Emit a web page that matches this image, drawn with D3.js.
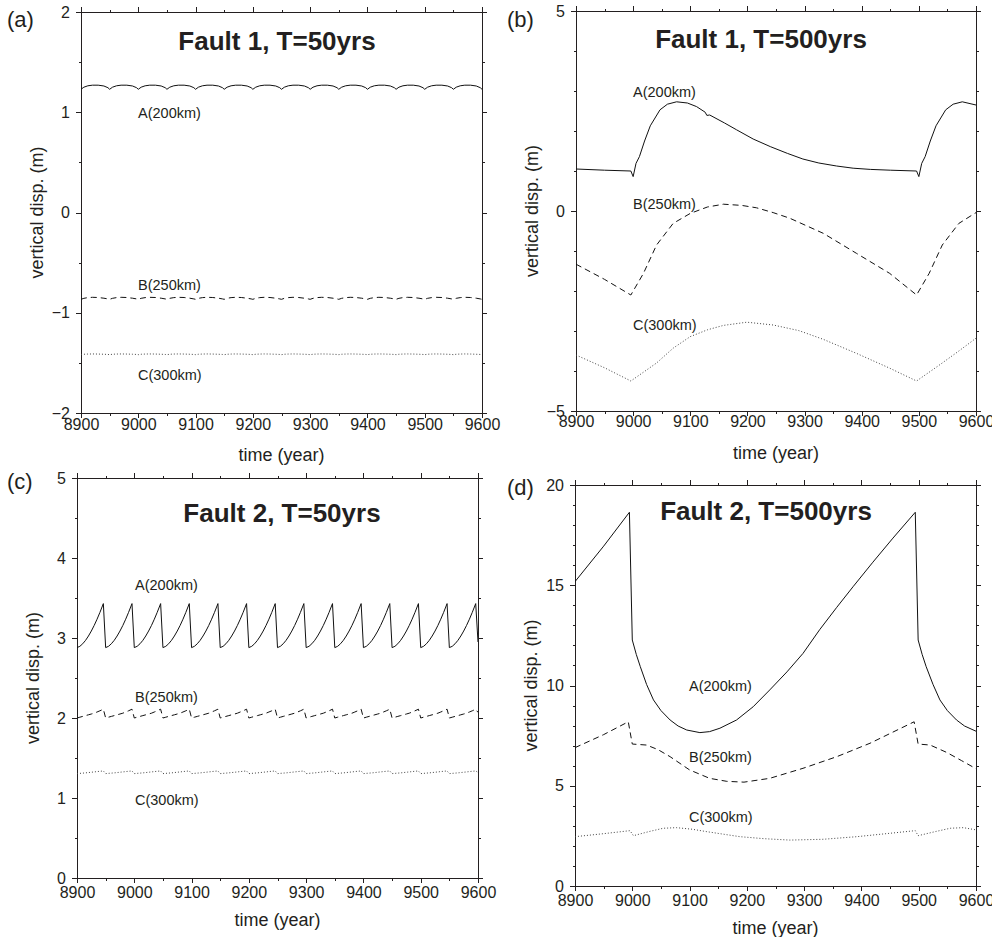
<!DOCTYPE html>
<html>
<head>
<meta charset="utf-8">
<script src="https://cdn.jsdelivr.net/npm/d3@7"></script>
<style>
  body { margin: 0; background: #fff; }
  text { font-family: "Liberation Sans", Arial, Helvetica, sans-serif; fill: #231f20; }
</style>
</head>
<body>
<svg id="chart" width="992" height="937"></svg>
<script>
// ---- tick values ----
const xTicks = [8900, 9000, 9100, 9200, 9300, 9400, 9500, 9600];
const xMinor = [8950, 9050, 9150, 9250, 9350, 9450, 9550];
const yTicksA = [-2, -1, 0, 1, 2];
const yMinorA = [-1.5, -0.5, 0.5, 1.5];
const yTicksB = [-5, 0, 5];
const yMinorB = [-4, -3, -2, -1, 1, 2, 3, 4];
const yTicksC = [0, 1, 2, 3, 4, 5];
const yMinorC = [0.5, 1.5, 2.5, 3.5, 4.5];
const yTicksD = [0, 5, 10, 15, 20];
const yMinorD = [1, 2, 3, 4, 6, 7, 8, 9, 11, 12, 13, 14, 16, 17, 18, 19];

const seriesNames = ["A(200km)", "B(250km)", "C(300km)"];

// ---- T=50yrs : one earthquake cycle, restarted at every quake ----
const quakes50 = [8900, 8950, 9000, 9050, 9100, 9150, 9200, 9250, 9300, 9350, 9400, 9450, 9500, 9550];

const f1Offsets = [0, 5, 12, 20, 30, 40, 47, 50];
const f1A50 = [1.229, 1.250, 1.264, 1.270, 1.270, 1.262, 1.245, 1.229];
const f1B50 = [-0.866, -0.856, -0.849, -0.846, -0.848, -0.855, -0.862, -0.866];
const f1C50 = [-1.418, -1.414, -1.412, -1.411, -1.412, -1.414, -1.416, -1.418];

const f2Offsets = [0, 5, 10, 15, 20, 25, 30, 35, 40, 46];
const f2A50 = [2.88, 2.896, 2.928, 2.971, 3.025, 3.087, 3.157, 3.235, 3.32, 3.43];
const f2B50 = [2.00, 2.01, 2.02, 2.03, 2.04, 2.05, 2.06, 2.075, 2.09, 2.11];
const f2C50 = [1.305, 1.308, 1.311, 1.314, 1.318, 1.322, 1.326, 1.33, 1.334, 1.338];
const f2End50 = [2.95, 2.07, 1.32]; // values at 9600 (A, B, C)

// ---- Fault 1, T=500yrs ----
const f1AYears = [8900, 8950, 8996, 9000, 9005, 9011, 9020, 9030, 9047, 9060, 9076, 9095, 9111, 9126, 9129, 9134, 9160, 9181, 9210, 9240, 9270, 9297, 9325, 9356, 9385, 9415, 9450, 9496, 9500, 9505, 9511, 9520, 9530, 9547, 9560, 9576, 9600];
const f1A500 = [1.05, 1.02, 1.00, 0.86, 1.19, 1.36, 1.75, 2.13, 2.53, 2.67, 2.73, 2.70, 2.61, 2.47, 2.39, 2.40, 2.20, 2.03, 1.80, 1.61, 1.44, 1.30, 1.20, 1.125, 1.07, 1.04, 1.02, 1.00, 0.86, 1.19, 1.36, 1.75, 2.13, 2.53, 2.67, 2.73, 2.65];
const f1BYears = [8900, 8950, 8996, 9018, 9041, 9070, 9100, 9130, 9158, 9190, 9216, 9245, 9274, 9333, 9391, 9449, 9496, 9518, 9541, 9570, 9600];
const f1B500 = [-1.33, -1.71, -2.10, -1.56, -0.85, -0.31, -0.06, 0.10, 0.17, 0.14, 0.08, -0.04, -0.18, -0.56, -1.06, -1.56, -2.10, -1.56, -0.85, -0.31, -0.04];
const f1CYears = [8900, 8950, 8996, 9041, 9070, 9100, 9130, 9158, 9199, 9245, 9290, 9333, 9391, 9449, 9496, 9537, 9570, 9600];
const f1C500 = [-3.60, -3.92, -4.25, -3.80, -3.43, -3.14, -2.97, -2.86, -2.78, -2.85, -2.99, -3.21, -3.56, -3.93, -4.25, -3.84, -3.50, -3.18];

// ---- Fault 2, T=500yrs ----
const f2AYears = [8900, 8950, 8995, 9000, 9007, 9014, 9025, 9037, 9050, 9066, 9080, 9095, 9118, 9135, 9153, 9182, 9211, 9240, 9270, 9298, 9327, 9357, 9386, 9420, 9455, 9494, 9499, 9506, 9513, 9525, 9537, 9550, 9566, 9580, 9600];
const f2A500 = [15.18, 16.95, 18.64, 12.27, 11.55, 10.94, 10.05, 9.28, 8.75, 8.28, 7.98, 7.78, 7.65, 7.70, 7.87, 8.28, 8.94, 9.78, 10.68, 11.6, 12.78, 13.9, 14.95, 16.15, 17.35, 18.64, 12.27, 11.55, 10.94, 10.05, 9.28, 8.75, 8.28, 7.98, 7.72];
const f2BYears = [8900, 8950, 8993, 9000, 9025, 9045, 9066, 9100, 9135, 9165, 9195, 9240, 9298, 9357, 9415, 9492, 9499, 9520, 9549, 9575, 9600];
const f2B500 = [6.90, 7.55, 8.19, 7.08, 7.03, 6.80, 6.45, 5.79, 5.37, 5.22, 5.18, 5.37, 5.87, 6.45, 7.12, 8.19, 7.08, 7.03, 6.66, 6.25, 5.85];
const f2CYears = [8900, 8950, 8996, 9002, 9030, 9054, 9077, 9105, 9130, 9160, 9188, 9230, 9275, 9333, 9392, 9450, 9494, 9499, 9530, 9555, 9578, 9600];
const f2C500 = [2.46, 2.61, 2.76, 2.51, 2.72, 2.88, 2.91, 2.83, 2.71, 2.58, 2.46, 2.36, 2.29, 2.33, 2.46, 2.63, 2.76, 2.51, 2.72, 2.88, 2.91, 2.80];

// build a series from one cycle repeated at each quake year
function cycleSeries(starts, offsets, values, endYear, endValue) {
  const pts = [];
  starts.forEach(function(s) {
    offsets.forEach(function(o, i) {
      if (s + o <= endYear) pts.push({ x: s + o, y: values[i] });
    });
  });
  if (endValue !== undefined) pts.push({ x: endYear, y: endValue });
  return pts;
}

function pairSeries(years, values) {
  return years.map((yr, i) => ({ x: yr, y: values[i] }));
}

const styles = [
  { dash: null, color: "#111" },
  { dash: "6,4", color: "#111" },
  { dash: "1,2", color: "#444" }
];

const panels = [
  {
    letter: "(a)", letterPos: [7, 27],
    title: "Fault 1, T=50yrs", titlePos: [277, 50],
    box: { l: 81, r: 482, t: 12, b: 413 }, xPad: 1,
    yDomain: [-2, 2], yTicks: yTicksA, yMinor: yMinorA,
    series: [
      cycleSeries(quakes50, f1Offsets, f1A50, 9600),
      cycleSeries(quakes50, f1Offsets, f1B50, 9600),
      cycleSeries(quakes50, f1Offsets, f1C50, 9600)
    ],
    labels: [[138, 118], [138, 290], [138, 380]]
  },
  {
    letter: "(b)", letterPos: [507, 27],
    title: "Fault 1, T=500yrs", titlePos: [761, 48],
    box: { l: 576, r: 976, t: 11, b: 411 }, xPad: 0,
    yDomain: [-5, 5], yTicks: yTicksB, yMinor: yMinorB,
    series: [
      pairSeries(f1AYears, f1A500),
      pairSeries(f1BYears, f1B500),
      pairSeries(f1CYears, f1C500)
    ],
    labels: [[633, 97], [633, 209], [633, 330]]
  },
  {
    letter: "(c)", letterPos: [7, 489],
    title: "Fault 2, T=50yrs", titlePos: [282, 522],
    box: { l: 77, r: 478, t: 478, b: 878 }, xPad: 4,
    yDomain: [0, 5], yTicks: yTicksC, yMinor: yMinorC,
    series: [
      cycleSeries(quakes50, f2Offsets, f2A50, 9600, f2End50[0]),
      cycleSeries(quakes50, f2Offsets, f2B50, 9600, f2End50[1]),
      cycleSeries(quakes50, f2Offsets, f2C50, 9600, f2End50[2])
    ],
    labels: [[135, 590], [135, 702], [135, 805]]
  },
  {
    letter: "(d)", letterPos: [507, 495],
    title: "Fault 2, T=500yrs", titlePos: [766, 520],
    box: { l: 575, r: 976, t: 485, b: 886 }, xPad: 4,
    yDomain: [0, 20], yTicks: yTicksD, yMinor: yMinorD,
    series: [
      pairSeries(f2AYears, f2A500),
      pairSeries(f2BYears, f2B500),
      pairSeries(f2CYears, f2C500)
    ],
    labels: [[689, 691], [689, 762], [689, 822]]
  }
];

const svg = d3.select("#chart");

function styleAxis(sel) {
  sel.select(".domain").remove();
  sel.selectAll("line").attr("stroke", "#231f20").attr("shape-rendering", "crispEdges");
  sel.selectAll("text")
    .attr("fill", "#231f20")
    .style("font-family", "'Liberation Sans', Arial, Helvetica, sans-serif")
    .style("font-size", "16px");
}

function drawPanel(p, idx) {
  const x = d3.scaleLinear().domain([8900, 9600]).range([p.box.l, p.box.r]);
  const y = d3.scaleLinear().domain(p.yDomain).range([p.box.b, p.box.t]);
  const g = svg.append("g");

  g.append("clipPath").attr("id", "clip" + idx)
    .append("rect")
    .attr("x", p.box.l).attr("y", p.box.t)
    .attr("width", p.box.r - p.box.l).attr("height", p.box.b - p.box.t);

  // bottom + top
  g.append("g").attr("transform", `translate(0,${p.box.b})`)
    .call(d3.axisBottom(x).tickValues(xTicks).tickSize(5).tickSizeOuter(0)
      .tickPadding(p.xPad).tickFormat(d3.format("d")))
    .call(styleAxis);
  g.append("g").attr("transform", `translate(0,${p.box.b})`)
    .call(d3.axisBottom(x).tickValues(xMinor).tickSize(2.5).tickSizeOuter(0).tickFormat(""))
    .call(styleAxis);
  g.append("g").attr("transform", `translate(0,${p.box.t})`)
    .call(d3.axisTop(x).tickValues(xTicks).tickSize(5).tickSizeOuter(0).tickFormat(""))
    .call(styleAxis);
  g.append("g").attr("transform", `translate(0,${p.box.t})`)
    .call(d3.axisTop(x).tickValues(xMinor).tickSize(2.5).tickSizeOuter(0).tickFormat(""))
    .call(styleAxis);

  // left + right
  g.append("g").attr("transform", `translate(${p.box.l},0)`)
    .call(d3.axisLeft(y).tickValues(p.yTicks).tickSize(5).tickSizeOuter(0)
      .tickPadding(6).tickFormat(d3.format("d")))
    .call(styleAxis);
  g.append("g").attr("transform", `translate(${p.box.l},0)`)
    .call(d3.axisLeft(y).tickValues(p.yMinor).tickSize(2.5).tickSizeOuter(0).tickFormat(""))
    .call(styleAxis);
  g.append("g").attr("transform", `translate(${p.box.r},0)`)
    .call(d3.axisRight(y).tickValues(p.yTicks).tickSize(5).tickSizeOuter(0).tickFormat(""))
    .call(styleAxis);
  g.append("g").attr("transform", `translate(${p.box.r},0)`)
    .call(d3.axisRight(y).tickValues(p.yMinor).tickSize(2.5).tickSizeOuter(0).tickFormat(""))
    .call(styleAxis);

  // frame
  g.append("rect")
    .attr("x", p.box.l + 0.5).attr("y", p.box.t + 0.5)
    .attr("width", p.box.r - p.box.l).attr("height", p.box.b - p.box.t)
    .attr("fill", "none").attr("stroke", "#231f20").attr("stroke-width", 1)
    .attr("shape-rendering", "crispEdges");

  // lines
  const line = d3.line().x(d => x(d.x)).y(d => y(d.y));
  g.append("g").attr("clip-path", `url(#clip${idx})`)
    .selectAll("path")
    .data(p.series)
    .join("path")
    .attr("fill", "none")
    .attr("stroke", (d, i) => styles[i].color)
    .attr("stroke-width", 1)
    .attr("stroke-dasharray", (d, i) => styles[i].dash)
    .attr("d", line);

  // series labels
  g.selectAll("text.lbl")
    .data(p.labels)
    .join("text")
    .attr("class", "lbl")
    .attr("x", d => d[0]).attr("y", d => d[1])
    .style("font-size", "14.5px")
    .text((d, i) => seriesNames[i]);

  // title
  g.append("text")
    .attr("x", p.titlePos[0]).attr("y", p.titlePos[1])
    .attr("text-anchor", "middle")
    .style("font-size", "26px").style("font-weight", "bold")
    .text(p.title);

  // panel letter
  g.append("text")
    .attr("x", p.letterPos[0]).attr("y", p.letterPos[1])
    .style("font-size", "22px")
    .text(p.letter);

  // axis titles
  g.append("text")
    .attr("x", (p.box.l + p.box.r) / 2).attr("y", p.box.b + 47.5)
    .attr("text-anchor", "middle")
    .style("font-size", "18px")
    .text("time (year)");

  g.append("text")
    .attr("transform", `translate(${p.box.l - 38},${(p.box.t + p.box.b) / 2}) rotate(-90)`)
    .attr("text-anchor", "middle")
    .style("font-size", "18px")
    .text("vertical disp. (m)");
}

panels.forEach(drawPanel);
</script>
</body>
</html>
